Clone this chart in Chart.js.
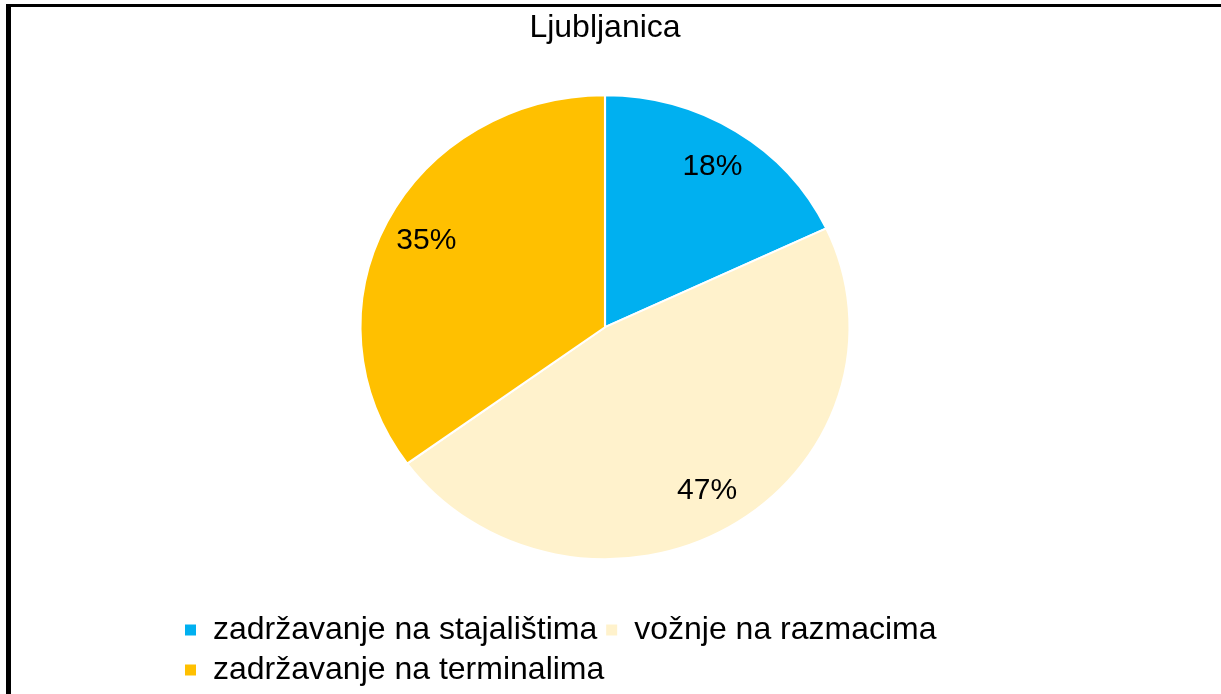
<!DOCTYPE html>
<html>
<head>
<meta charset="utf-8">
<script src="https://cdn.jsdelivr.net/npm/chart.js@4.4.1/dist/chart.umd.min.js"></script>
<style>
  html, body { margin: 0; padding: 0; background: #fff; overflow: hidden; }
  .frame {
    position: absolute; left: 6px; top: 4px; width: 1300px; height: 800px;
    border-top: 3px solid #000; border-left: 5px solid #000;
  }
  .wrap { position: absolute; left: 0; top: 0; width: 1221px; height: 694px; }
</style>
</head>
<body>
<div class="frame"></div>
<div class="wrap"><canvas id="chart-pie"></canvas></div>
<script>
const chartTitle = 'Ljubljanica';
const categories = ['zadržavanje na stajalištima', 'vožnje na razmacima', 'zadržavanje na terminalima'];
const shares = [18, 47, 35];
const sliceColors = ['#00B0F0', '#FFF2CC', '#FFC000'];

const FONT = '"Liberation Sans", Arial, sans-serif';
const stretchX = 1.054;

// excel-like pie: slightly wider than tall, labels inside slices
const pieLabels = {
  id: 'pieLabels',
  beforeDatasetsDraw(chart) {
    const arc = chart.getDatasetMeta(0).data[0];
    if (!arc) return;
    const c = chart.ctx;
    c.save();
    c.translate(arc.x, arc.y);
    c.scale(stretchX, 1);
    c.translate(-arc.x, -arc.y);
  },
  afterDatasetsDraw(chart) {
    const c = chart.ctx;
    c.restore();
    const meta = chart.getDatasetMeta(0);
    const total = shares.reduce((s, v) => s + v, 0);
    c.save();
    c.font = '30px ' + FONT;
    c.fillStyle = '#000';
    c.textAlign = 'center';
    c.textBaseline = 'middle';
    meta.data.forEach((a, i) => {
      const mid = (a.startAngle + a.endAngle) / 2;
      const r = a.outerRadius * 0.82;
      const x = a.x + Math.cos(mid) * r * stretchX;
      const y = a.y + Math.sin(mid) * r;
      c.fillText(Math.round(shares[i] / total * 100) + '%', x, y);
    });
    c.restore();
  }
};

new Chart(document.getElementById('chart-pie'), {
  type: 'pie',
  data: {
    labels: categories,
    datasets: [{
      data: shares,
      backgroundColor: sliceColors,
      borderColor: '#fff',
      borderWidth: 2,
      radius: 232
    }]
  },
  options: {
    responsive: true,
    maintainAspectRatio: false,
    animation: false,
    layout: { padding: { left: 176, right: 187, top: 0, bottom: -2 } },
    plugins: {
      title: {
        display: true,
        text: chartTitle,
        color: '#000',
        font: { family: FONT, size: 32, weight: 'normal' },
        padding: { top: 9, bottom: 1 }
      },
      legend: {
        position: 'bottom',
        align: 'start',
        labels: {
          color: '#000',
          font: { family: FONT, size: 32 },
          boxWidth: 13,
          boxHeight: 13,
          padding: 8
        }
      },
      tooltip: { enabled: false }
    }
  },
  plugins: [pieLabels]
});
</script>
</body>
</html>
